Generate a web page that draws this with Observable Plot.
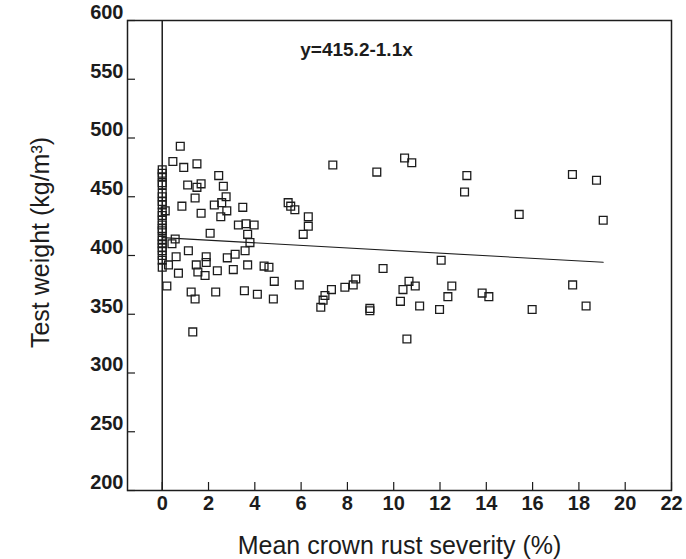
<!DOCTYPE html>
<html>
<head>
<meta charset="utf-8">
<script src="https://cdn.jsdelivr.net/npm/d3@7"></script>
<script src="https://cdn.jsdelivr.net/npm/@observablehq/plot@0.6"></script>
<style>
  html, body { margin: 0; padding: 0; background: #fff; }
</style>
</head>
<body>
<div id="chart"></div>
<script>
// Mean crown rust severity (%) of each observation
const severity = [
  0,0,0,0,0,0,0,0,0,0,0,0,0,0,0,0,0,0,0,0,0,0,0,
  0.13,0.27,0.2,0.42,0.56,
  0.78,0.46,0.93,1.5,2.44,1.1,1.68,1.5,2.64,1.42,
  2.76,2.25,2.57,2.79,2.53,0.85,1.68,3.48,3.29,3.62,
  3.97,3.69,3.79,2.07,3.58,3.15,2.81,1.9,1.9,1.13,
  0.6,0.7,1.47,1.54,1.85,2.38,3.07,3.69,4.4,4.61,
  4.84,1.25,1.42,2.31,3.55,4.11,4.8,1.32,
  5.44,5.55,5.73,6.31,6.31,6.09,12.05,9.54,5.92,7.31,
  7.03,6.95,6.85,7.89,8.25,8.36,8.97,8.97,10.66,10.4,
  10.93,10.29,11.12,11.98,12.51,12.34,10.57,
  7.37,9.27,10.47,10.78,
  13.16,13.06,15.42,17.72,18.76,19.05,17.73,18.31,15.98,13.82,14.11
];
// Test weight (kg/m3) of each observation
const testWeight = [
  473,470,467,462,460,453,450,446,443,437,434,430,426,423,421,416,413,410,407,404,400,396,390,
  438,392,374,410,414,
  493,480,475,478,468,460,461,458,459,449,
  450,443,445,438,433,442,436,441,426,427,
  426,418,411,419,404,401,398,399,394,404,
  399,385,392,386,383,387,388,392,391,390,
  378,369,363,369,370,367,363,335,
  445,442,439,433,425,418,396,389,375,371,
  366,362,356,373,375,380,355,353,378,371,
  374,361,357,354,374,365,329,
  477,471,483,479,
  468,454,435,469,464,430,375,357,354,368,365
];
const xTicks = [0,2,4,6,8,10,12,14,16,18,20,22];
const yTicks = [200,250,300,350,400,450,500,550,600];
const intercept = 415.2;
const slope = -1.1;
const equationLabel = "y=415.2-1.1x";
const xTitle = "Mean crown rust severity (%)";
const yTitle = "Test weight (kg/m\u00B3)";

const points = severity.map((x, i) => ({x, y: testWeight[i]}));
const fit = [0, d3.max(severity)].map(x => ({x, y: intercept + slope * x}));
const ink = "#1c1c1c";

const chart = Plot.plot({
  width: 686,
  height: 559,
  marginLeft: 127,
  marginRight: 15,
  marginTop: 20,
  marginBottom: 69,
  style: {fontFamily: "'Liberation Sans', Arial, sans-serif", background: "#fff", color: ink},
  x: {domain: [-1.5, 22]},
  y: {domain: [200, 600]},
  marks: [
    Plot.frame({stroke: ink, strokeWidth: 1.5}),
    Plot.ruleX([0], {stroke: ink, strokeWidth: 1.5}),
    Plot.axisX(xTicks, {tickSize: -8, fill: "none", stroke: ink, strokeWidth: 1.2, label: null}),
    Plot.axisX(xTicks, {tickSize: 0, tickPadding: 5, fontSize: 20, fontWeight: "bold", fill: ink, label: null}),
    Plot.axisY(yTicks, {tickSize: -8, fill: "none", stroke: ink, strokeWidth: 1.2, label: null}),
    Plot.axisY(yTicks, {tickSize: 0, tickPadding: 4, dy: -8, fontSize: 20, fontWeight: "bold", fill: ink, label: null}),
    Plot.line(fit, {x: "x", y: "y", stroke: ink, strokeWidth: 1.1}),
    Plot.dot(points, {x: "x", y: "y", symbol: "square", r: 4.4, stroke: ink, strokeWidth: 1.3, fill: "none"}),
    Plot.text([equationLabel], {text: d => d, frameAnchor: "top-left", textAnchor: "middle", lineAnchor: "middle", dx: 229, dy: 29, fontSize: 19, fontWeight: "bold", fill: ink}),
    Plot.text([xTitle], {text: d => d, frameAnchor: "bottom", textAnchor: "middle", lineAnchor: "middle", dy: 55, fontSize: 25, fill: ink}),
    Plot.text([yTitle], {text: d => d, frameAnchor: "left", textAnchor: "middle", lineAnchor: "middle", dx: -87, dy: -13, rotate: -90, fontSize: 25, fill: ink})
  ]
});
document.getElementById("chart").appendChild(chart);
</script>
</body>
</html>
